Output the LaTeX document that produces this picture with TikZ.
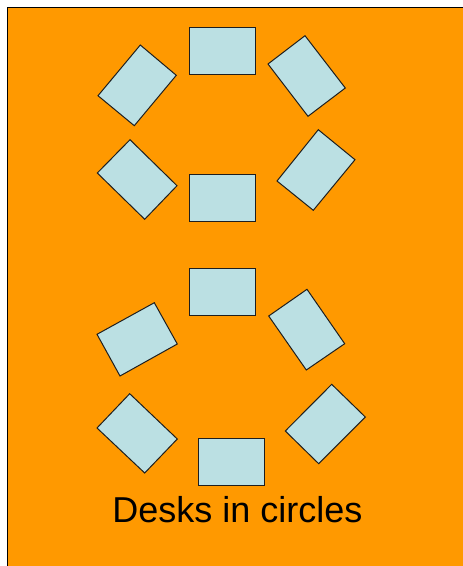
\documentclass[tikz,border=0pt]{standalone}
\usepackage{fontspec}
\setmainfont{Liberation Sans}
\definecolor{bgorange}{HTML}{FF9900}
\definecolor{deskblue}{HTML}{BBE0E3}
\definecolor{deskline}{HTML}{1E1E1E}
\tikzset{
  desk/.style={fill=deskblue, draw=deskline, line width=1pt, line join=miter},
  caption/.style={font=\fontsize{36}{40}\selectfont, text=black, anchor=base, inner sep=0pt}
}
\begin{document}
\begin{tikzpicture}[x=1pt,y=-1pt]
\useasboundingbox (0,0) rectangle (463,566);
\fill[white] (0,0) rectangle (463,566);
\begin{scope}
\clip (0,0) rectangle (463,566);
\draw[fill=bgorange, draw=black, line width=1.5pt] (7.5,7.5) rectangle (480,580);
\end{scope}
% upper circle
\draw[desk] (140.3,45) -- (176.3,75.3) -- (134.3,125.7) -- (98,95.7) -- cycle;
\draw[desk] (189,27) rectangle (255,74);
\draw[desk] (305,35.7) -- (345.3,88) -- (308,116.3) -- (268,64) -- cycle;
\draw[desk] (130,139.7) -- (177,185.7) -- (144.7,219.3) -- (97.3,173) -- cycle;
\draw[desk] (189,174) rectangle (255,221);
\draw[desk] (318.3,129.7) -- (355,159.7) -- (313.3,210.3) -- (277,181) -- cycle;
% lower circle
\draw[desk] (189,268) rectangle (255,315);
\draw[desk] (154.3,302.7) -- (177.3,344) -- (120,376) -- (97,334.3) -- cycle;
\draw[desk] (307,289.3) -- (344.7,343.7) -- (306.3,370) -- (268.7,316) -- cycle;
\draw[desk] (129.7,393.7) -- (177.3,439) -- (144.7,473) -- (97,428) -- cycle;
\draw[desk] (331.7,384.3) -- (365.3,417) -- (318.7,463.7) -- (285.3,431) -- cycle;
\draw[desk] (198,438) rectangle (264,485);
\node[caption] (cap) at (237.5,522) {Desks in circles};
\end{tikzpicture}
\end{document}
